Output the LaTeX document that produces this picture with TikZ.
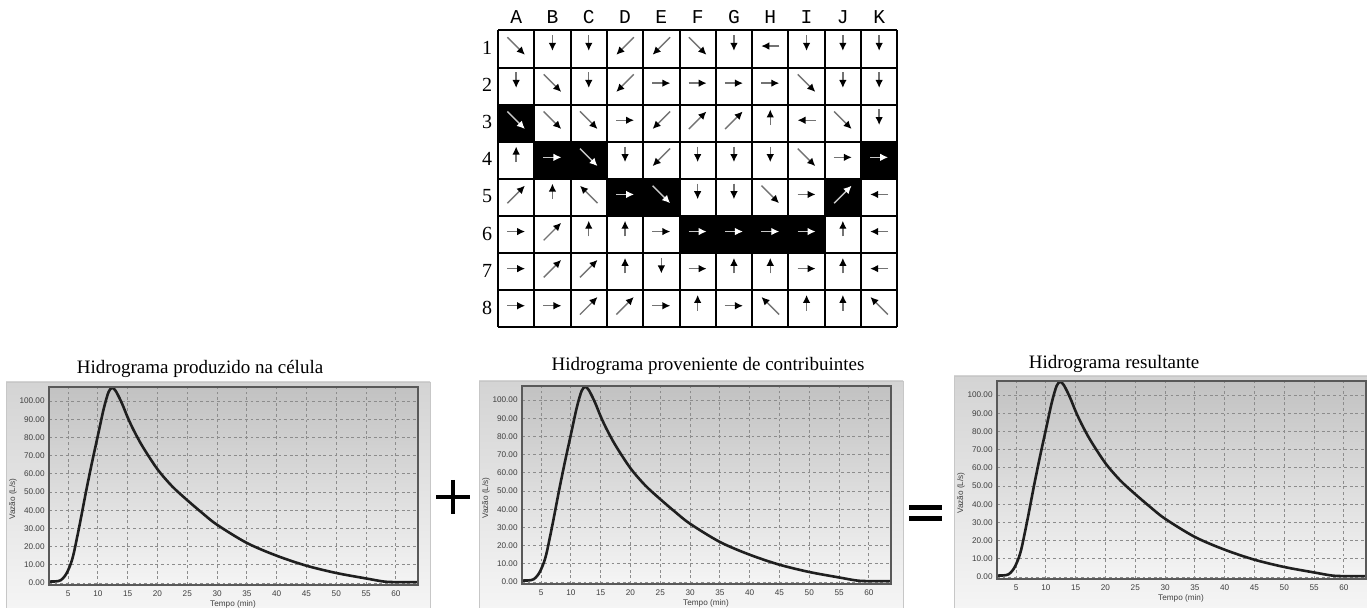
\documentclass[tikz,border=0pt]{standalone}
\usepackage{fontspec}
\setmainfont{Liberation Serif}
\newfontfamily\monofont{Liberation Mono}
\newfontfamily\chartfont{Liberation Sans}
\usepackage{tikz}
\usetikzlibrary{arrows.meta}

\tikzset{
  title/.style={font=\fontsize{9.5}{11}\selectfont},
  collabel/.style={font=\monofont\fontsize{9.8}{12}\selectfont},
  rowlabel/.style={font=\fontsize{10}{12}\selectfont},
  cellw/.style={fill=white},
  cellk/.style={fill=black},
  arrw/.style={draw=black!55, line width=0.7pt, -{Latex[length=4pt,width=3.8pt,color=black]}},
  arrk/.style={draw=black!22, line width=0.7pt, -{Latex[length=4pt,width=3.8pt,color=white]}},
  panel/.style={top color=black!17, bottom color=black!4, draw=black!22, line width=0.4pt},
  plotarea/.style={top color=black!24, bottom color=black!4},
  plotframe/.style={draw=black!65, line width=0.8pt},
  gridline/.style={draw=black!45, line width=0.45pt, dash pattern=on 1.4pt off 1.4pt},
  curve/.style={draw=black!88, line width=1.3pt},
  ticklab/.style={font=\chartfont\fontsize{4.1}{5}\selectfont, text=black!75, inner sep=0.5pt},
}

% one hydrograph panel: #1 name, #2/#3 top-left of the plot area (px)
\newcommand{\hidrograma}[3]{%
  \begin{scope}[shift={(#2,#3)}]
    \fill[panel] (-43,-5) rectangle (381,608-#3);
    \fill[plotarea] (0,0) rectangle (369,198);
    \begin{scope}[x=2.98pt, y=0.91pt, shift={(-1.8,-107.7)}]
      % Grid and tick labels
      \foreach \t in {5,10,...,60} {
        \draw[gridline] (\t,-1) -- (\t,107.7);
        \node[ticklab, below=2.2pt] (#1t\t) at (\t,-1) {\t};
      }
      \foreach \v in {0,10,...,100} {
        \draw[gridline] (1.8,\v) -- (63.7,\v);
        \node[ticklab, left=1.5pt] (#1v\v) at (1.8,\v) {\v.00};
      }
      % Hydrograph
      \draw[curve] plot[smooth, tension=0.5] coordinates {
        (1.8,0.8) (3,0.9) (3.8,1.6) (4.5,4) (5,7) (5.5,11) (6,17) (7,33)
        (8,50) (9,66) (10,81) (11,96) (11.8,105) (12.4,107.2) (13,105.5)
        (14,99) (15,91) (16,84) (17.5,75) (20,62.5) (22.5,53) (25,45.5)
        (27.5,38.5) (30,32) (35,22) (40,15) (45,9.5) (50,5.5) (55,2.5)
        (58,0.8) (60,0.5) (63.7,0.5)};
    \end{scope}
    \draw[plotframe] (0,0) rectangle (369,198);
    \node[ticklab] (#1x) at (184,217) {Tempo (min)};
    \node[ticklab, rotate=90] (#1y) at (-36,112) {Vazão (L/s)};
  \end{scope}
}

\begin{document}
\begin{tikzpicture}[x=0.5pt,y=-0.5pt]
  \useasboundingbox (0,0) rectangle (1367,608);

  % Flow direction grid
  \foreach \r/\dirs in {
    1/{315/w,270/w,270/w,225/w,225/w,315/w,270/w,180/w,270/w,270/w,270/w},
    2/{270/w,315/w,270/w,225/w,0/w,0/w,0/w,0/w,315/w,270/w,270/w},
    3/{315/k,315/w,315/w,0/w,225/w,45/w,45/w,90/w,180/w,315/w,270/w},
    4/{90/w,0/k,315/k,270/w,225/w,270/w,270/w,270/w,315/w,0/w,0/k},
    5/{45/w,90/w,135/w,0/k,315/k,270/w,270/w,315/w,0/w,45/k,180/w},
    6/{0/w,45/w,90/w,90/w,0/w,0/k,0/k,0/k,0/k,90/w,180/w},
    7/{0/w,45/w,45/w,90/w,270/w,0/w,90/w,90/w,0/w,90/w,180/w},
    8/{0/w,0/w,45/w,45/w,0/w,90/w,0/w,135/w,90/w,90/w,135/w}} {
    \foreach \d/\f [count=\c] in \dirs {
      \pgfmathsetmacro\xa{498+(\c-1)*36.3}
      \pgfmathsetmacro\ya{30.5+(\r-1)*37.1}
      \fill[cell\f] (\xa,\ya) rectangle ++(36.3,37.1);
      \pgfmathsetmacro\cx{\xa+18.15}
      \pgfmathsetmacro\cy{\ya+18.55-(mod(\d,180)==90 ? 6 : 3)}
      \pgfmathsetmacro\len{mod(\d,90)==0 ? (mod(\d,180)==0 ? 4.5 : 3.9) : 6.2}
      \draw[arr\f] ([shift={(\d+180:\len pt)}]\cx,\cy) -- ([shift={(\d:\len pt)}]\cx,\cy);
    }
  }
  \foreach \i in {0,...,11}
    \draw[line width=1pt] (498+\i*36.3,30.5) -- (498+\i*36.3,327.3);
  \foreach \j in {0,...,8}
    \draw[line width=1pt] (498,30.5+\j*37.1) -- (897.3,30.5+\j*37.1);
  % Labels
  \foreach \l [count=\i] in {A,...,K}
    \node[collabel] (col\l) at (498+\i*36.3-18.15,17) {\l};
  \foreach \j in {1,...,8}
    \node[rowlabel] (row\j) at (487,30.5+\j*37.1-19.5) {\j};

  % Hydrographs
  \node[title] (titcel) at (200,369) {Hidrograma produzido na célula};
  \node[title] (titcon) at (708,366) {Hidrograma proveniente de contribuintes};
  \node[title] (titres) at (1114,364) {Hidrograma resultante};
  \hidrograma{cel}{49}{387}
  \hidrograma{con}{522}{386}
  \hidrograma{res}{997}{381}

  % Plus and equals
  \draw[line width=2.3pt] (436,497) -- (470,497) (453,480) -- (453,514);
  \draw[line width=2.5pt] (909,507.5) -- (942,507.5) (909,518.5) -- (942,518.5);
\end{tikzpicture}
\end{document}
